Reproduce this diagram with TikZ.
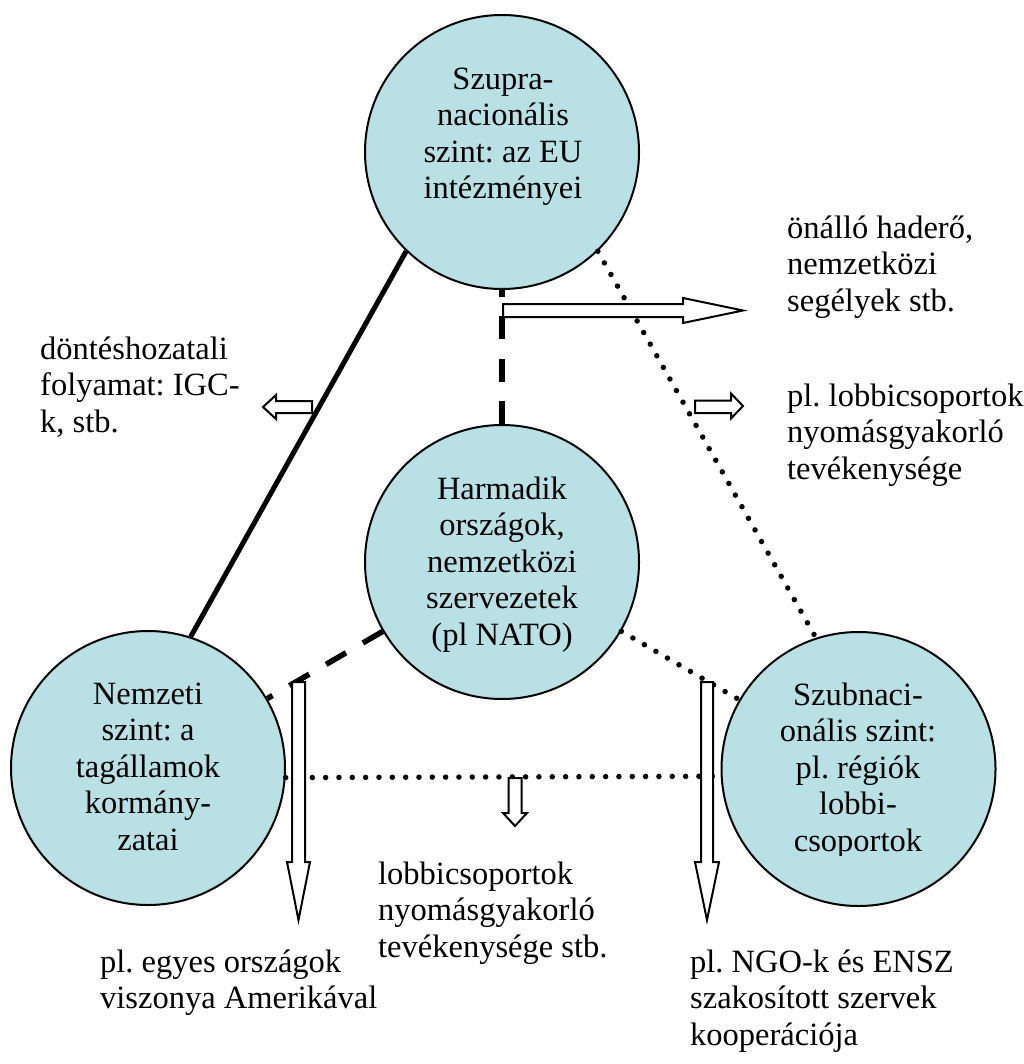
\documentclass[tikz,border=0pt]{standalone}
\usepackage{fontspec}
\setmainfont{Liberation Serif}
\definecolor{circfill}{RGB}{185,224,228}
\begin{document}
\frenchspacing
\begin{tikzpicture}[x=1pt,y=-1pt,
  lvl/.style={circle, draw, line width=2pt, fill=circfill, minimum size=274pt, inner sep=0pt},
  ctxt/.style={font=\fontsize{32.5}{36.5}\selectfont, inner sep=0pt, align=center, anchor=north, execute at begin node=\strut},
  lbl/.style={font=\fontsize{32.5}{36.5}\selectfont, inner sep=0pt, align=left, anchor=north west, execute at begin node=\strut},
  solidlink/.style={line width=5pt},
  dashlink/.style={line width=5.5pt, dash pattern=on 23pt off 19.5pt},
  dotlink/.style={line width=5.5pt, line cap=round, dash pattern=on 0pt off 13.33pt},
  blockarrow/.style={draw, fill=white, line width=2pt, line join=miter}
]
\useasboundingbox (0,0) rectangle (1023,1064);

% circles
\node[lvl] (sup) at (502,152) {};
\node[lvl] (mid) at (502,562) {};
\node[lvl] (nat) at (148,768) {};
\node[lvl] (sub) at (858.5,769) {};

% connectors
\draw[solidlink] (sup.226) -- (nat.72);
\draw[dashlink] (mid) -- (sup);
\draw[dashlink] (mid) -- (nat);
\draw[dotlink] (sup.314.5) -- (sub.108);
\draw[dotlink] (mid) -- (sub);
\draw[dotlink] (nat.-4.2) -- (sub.183.8);

% block arrows
\draw[blockarrow] (503,304) -- (683,304) -- (683,298) -- (743,310.5) -- (683,323) -- (683,317) -- (503,317) -- cycle;
\draw[blockarrow] (312,401) -- (276,401) -- (276,395) -- (263,407) -- (276,419) -- (276,413) -- (312,413) -- cycle;
\draw[blockarrow] (695,400.5) -- (731,400.5) -- (731,393.5) -- (743,406) -- (731,418.5) -- (731,413) -- (695,413) -- cycle;
\draw[blockarrow] (292,682) -- (292,862) -- (287,862) -- (298.5,920) -- (310,862) -- (305,862) -- (305,682) -- cycle;
\draw[blockarrow] (701,682) -- (701,862) -- (695,862) -- (707,920) -- (719,862) -- (713,862) -- (713,682) -- cycle;
\draw[blockarrow] (508.5,778) -- (508.5,813) -- (503,813) -- (515,826) -- (527,813) -- (521.5,813) -- (521.5,778) -- cycle;

% circle texts
\node[ctxt] (supt) at (503,67.5) {Szupra-\\nacionális\\szint: az EU\\intézményei};
\begin{scope}
  \clip (0,0) rectangle (1023,651);
  \node[ctxt] (midt) at (502,476.5) {Harmadik\\országok,\\nemzetközi\\szervezetek\\(pl NATO)};
\end{scope}
\node[ctxt] (natt) at (148,682.5) {Nemzeti\\szint: a\\tagállamok\\kormány-\\zatai};
\begin{scope}
  \clip (0,0) rectangle (1023,855);
  \node[ctxt] (subt) at (858,682.5) {Szubnaci-\\onális szint:\\pl. régiók\\lobbi-\\csoportok};
\end{scope}

% labels
\node[lbl] (l1) at (787,215.5) {önálló haderő,\\nemzetközi\\segélyek stb.};
\node[lbl] (l2) at (40,336.5) {döntéshozatali\\folyamat: IGC-\\k, stb.};
\node[lbl] (l3) at (787,383.5) {pl. lobbicsoportok\\nyomásgyakorló\\tevékenysége};
\node[lbl] (l4) at (378,861.5) {lobbicsoportok\\nyomásgyakorló\\tevékenysége stb.};
\node[lbl] (l5) at (100,949.5) {pl. egyes országok\\viszonya Amerikával};
\node[lbl] (l6) at (690,949.5) {pl. NGO-k és ENSZ\\szakosított szervek\\kooperációja};
\end{tikzpicture}
\end{document}
